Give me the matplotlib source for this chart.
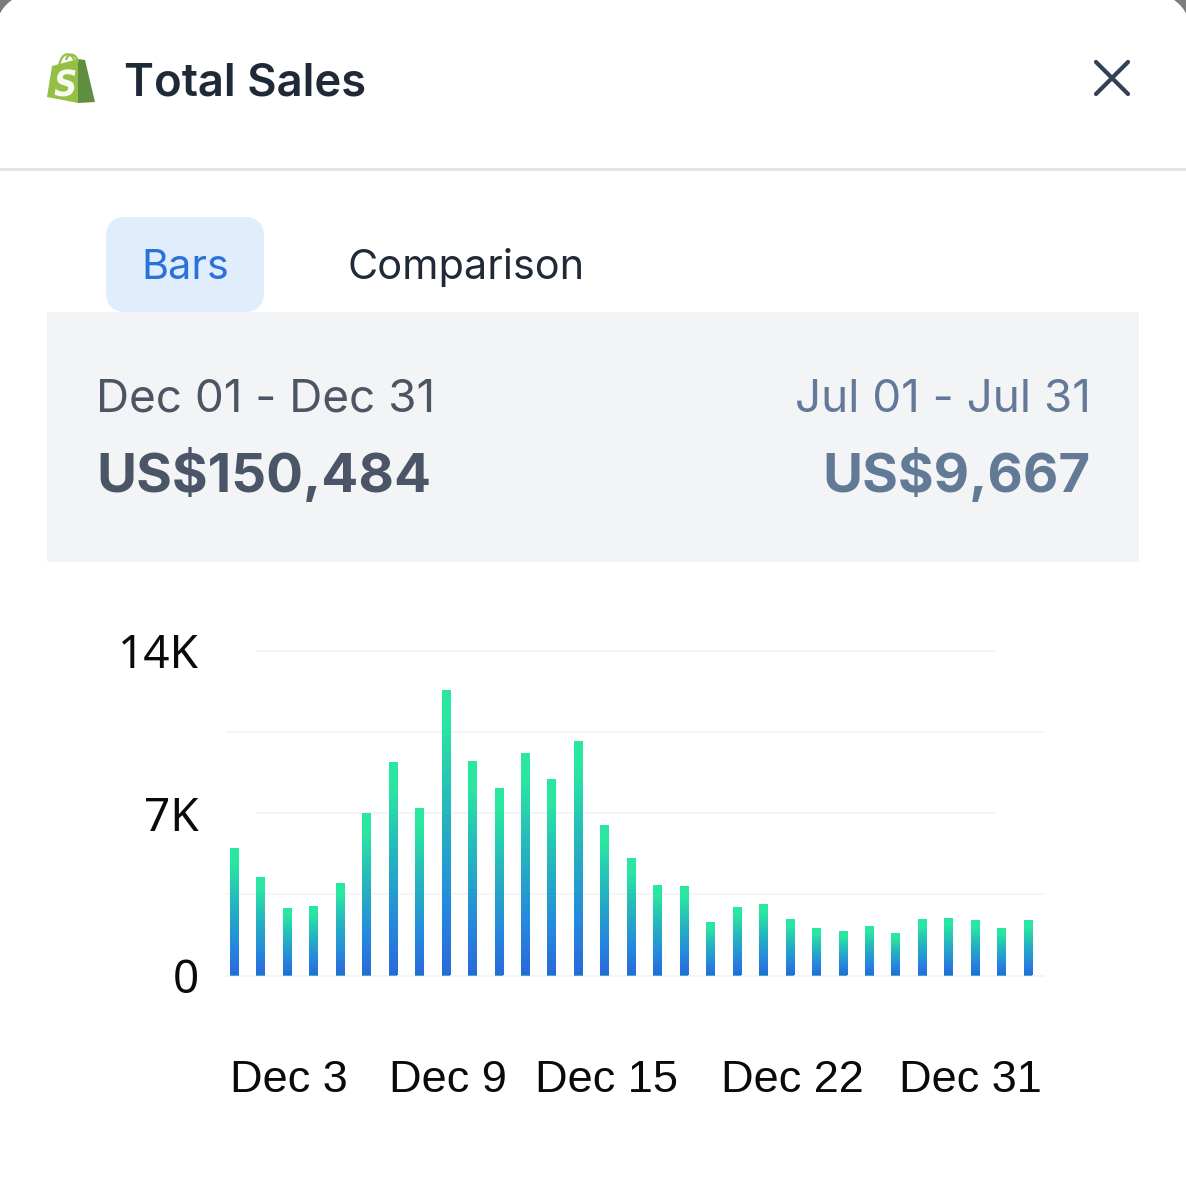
import numpy as np
import matplotlib
matplotlib.use("Agg")
import matplotlib.pyplot as plt
from matplotlib.colors import LinearSegmentedColormap
from matplotlib.patches import FancyBboxPatch, Rectangle, Polygon, PathPatch
from matplotlib.path import Path
from matplotlib.textpath import TextPath
from matplotlib.font_manager import FontProperties
from matplotlib.transforms import ScaledTranslation, Affine2D

# ---- data ----
sales_k = [5.46, 4.22, 2.85, 2.97, 3.96, 6.96, 9.17, 7.17, 12.27, 9.21, 8.06,
           9.54, 8.44, 10.06, 6.46, 5.02, 3.87, 3.83, 2.25, 2.90, 3.05, 2.38,
           2.00, 1.88, 2.08, 1.79, 2.38, 2.42, 2.35, 2.00, 2.34]
ytick_vals = [0, 7, 14]
ytick_labels = ["0", "7K", "14K"]
xtick_idx = [2, 8, 14, 21, 30]
xtick_labels = ["Dec 3", "Dec 9", "Dec 15", "Dec 22", "Dec 31"]
grid_long = [3.5, 10.5]
grid_short = [7, 14]
title = "Total Sales"
tabs = ["Bars", "Comparison"]
range_a, total_a = "Dec 01 - Dec 31", "US$150,484"
range_b, total_b = "Jul 01 - Jul 31", "US$9,667"

W, H = 1186, 1200
fig = plt.figure(figsize=(W / 100, H / 100), dpi=100, facecolor="#7C7C7C")
PX = 0.72  # points per pixel

# ---- card chrome, in pixel coordinates ----
bg = fig.add_axes([0, 0, 1, 1])
bg.set_xlim(0, W)
bg.set_ylim(H, 0)
bg.axis("off")
bg.add_patch(FancyBboxPatch((-6 + 50, -8 + 50), W + 12 - 100, H + 100, boxstyle="round,pad=50,rounding_size=50",
                            fc="white", ec="none"))
bg.add_patch(Rectangle((0, 167.5), W, 3, fc="#E4E4E4", ec="none"))
bg.add_patch(Rectangle((47, 312), 1092, 250, fc="#F3F4F6", ec="none"))
bg.add_patch(FancyBboxPatch((106 + 20, 217 + 20), 158 - 40, 95 - 40, boxstyle="round,pad=20,rounding_size=20",
                            fc="#DFEDFD", ec="none"))

# Shopify bag
bg.add_patch(Polygon([(52, 66), (78, 59), (78, 103), (47, 97)], fc="#95BF47", ec="none"))
bg.add_patch(Polygon([(78, 59), (85, 60), (95, 102), (78, 103)], fc="#5E8E3E", ec="none"))
bg.add_patch(PathPatch(Path([(59, 66), (62, 50), (72, 52), (75, 62)],
                            [Path.MOVETO, Path.CURVE4, Path.CURVE4, Path.CURVE4]),
                       fc="none", ec="#95BF47", lw=1.6))
bg.add_patch(PathPatch(Path([(66, 60), (68, 52), (76, 53), (78, 62)],
                            [Path.MOVETO, Path.CURVE4, Path.CURVE4, Path.CURVE4]),
                       fc="none", ec="#95BF47", lw=1.6))
s_path = TextPath((0, 0), "S", size=36, prop=FontProperties(family="DejaVu Sans", weight="bold", style="italic"))
bg.add_patch(PathPatch(s_path, fc="#F6FBEF", ec="none",
                       transform=Affine2D().scale(0.9, -1).translate(54, 96) + bg.transData))

# close icon
for xs, ys in (((1096, 1128), (62, 94)), ((1096, 1128), (94, 62))):
    bg.plot(xs, ys, color="#344054", lw=4.2 * PX, solid_capstyle="round")

UI = "Inter"
bg.text(124, 96, title, fontsize=32.7, family=UI, weight="semibold", color="#1F2937", va="baseline")
bg.text(185, 279, tabs[0], fontsize=29.8, family=UI, color="#2B72D8", ha="center", va="baseline")
bg.text(347, 279, tabs[1], fontsize=29.8, family=UI, color="#1F2937", va="baseline")
bg.text(96, 412, range_a, fontsize=33, family=UI, color="#4B5563", va="baseline")
bg.text(96, 492, total_a, fontsize=39.4, family=UI, weight="bold", color="#4B5568", va="baseline")
bg.text(1091, 412, range_b, fontsize=33, family=UI, color="#64789A", ha="right", va="baseline")
bg.text(1091, 492, total_b, fontsize=39.4, family=UI, weight="bold", color="#627A96", ha="right", va="baseline")

# ---- chart ----
L, R, T, B = 226, 1045, 651, 975.5
ax = fig.add_axes([L / W, 1 - B / H, (R - L) / W, (B - T) / H], facecolor="none")
x0, step = 234.3, 26.46
xlim = ((L - x0) / step, (R - x0) / step)

ax.hlines(grid_long + [0], xlim[0], xlim[1], color="#F4F5F7", lw=2 * PX, zorder=1, clip_on=False)
short_a, short_b = (256 - x0) / step, (995 - x0) / step
ax.hlines(grid_short, short_a, short_b, color="#F4F5F7", lw=2 * PX, zorder=1, clip_on=False)

cmap = LinearSegmentedColormap.from_list(
    "g", [(0, "#2A6AD8"), (0.22, "#2587DF"), (0.6, "#25BABC"), (0.88, "#2AE6A2"), (1, "#2AE8A0")])
grad = np.linspace(1, 0, 128).reshape(-1, 1)
xs = np.arange(len(sales_k))
bw = 0.33
bars = ax.bar(xs, sales_k, width=bw, color="#25BABC", zorder=2)
for b in bars:
    ax.imshow(grad, extent=(b.get_x(), b.get_x() + b.get_width(), 0, b.get_height()),
              aspect="auto", cmap=cmap, vmin=0, vmax=1, zorder=3, interpolation="bilinear")
ax.set_xlim(*xlim)
ax.set_ylim(0, 14)
for s in ax.spines.values():
    s.set_visible(False)
ax.tick_params(length=0)
ax.set_yticks(ytick_vals, ytick_labels, fontsize=33, family="Noto Sans", color="#0A0A0A")
ax.tick_params(axis="y", pad=27 * PX)
ax.set_xticks(xtick_idx, xtick_labels, fontsize=32.5, family="Liberation Sans", color="#0A0A0A")
ax.tick_params(axis="x", pad=84 * PX)
offsets = [2, 2, 2, 2, -58]
for lab, dx in zip(ax.get_xticklabels(), offsets):
    lab.set_transform(lab.get_transform() + ScaledTranslation(dx / 100, 0, fig.dpi_scale_trans))

fig.savefig("out.png", dpi=100, facecolor=fig.get_facecolor())
